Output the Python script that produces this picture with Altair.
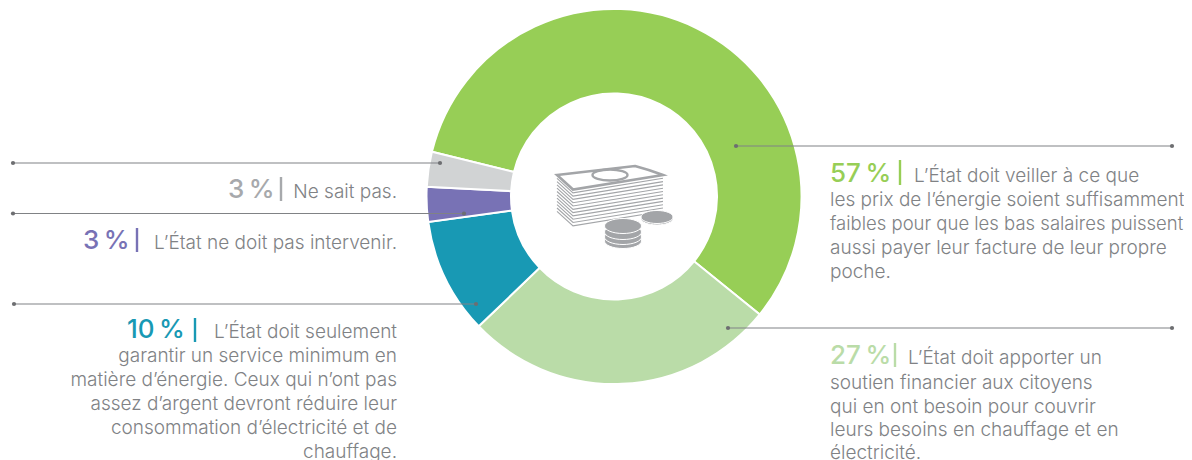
import altair as alt
import pandas as pd

categories = ["Prix faibles", "Soutien financier", "Service minimum", "Pas d'intervention", "Ne sait pas"]
values = [57, 27, 10, 3, 3]
colors = ["#97CE56", "#BADCA8", "#1899B4", "#7872B5", "#D1D3D4"]
order = [0, 1, 2, 3, 4]

FONT = "Inter"
TXT = "#808285"
LINE = "#808285"
OX, OY = 8, 8  # page margin

df = pd.DataFrame({"cat": categories, "val": values, "ord": order})
start = 4.953
arc = alt.Chart(df).mark_arc(outerRadius=187.5, innerRadius=103, stroke="white", strokeWidth=2).encode(
    theta=alt.Theta("val:Q", stack=True, scale=alt.Scale(domain=[0, 100], range=[start, start + 6.28319])),
    order=alt.Order("ord:Q"),
    color=alt.Color("cat:N", scale=alt.Scale(domain=categories, range=colors), legend=None),
    x=alt.value(614 - OX), y=alt.value(196.5 - OY),
)

layers = [arc]

one = pd.DataFrame({"a": [0]})

def vx(v): return alt.value(v - OX)
def vy(v): return alt.value(v - OY)

def text(s, x, y, size=19, color=TXT, align="left", weight=300):
    layers.append(alt.Chart(one).mark_text(font=FONT, fontSize=size, color=color, align=align,
                                           baseline="alphabetic", fontWeight=weight).encode(
        x=vx(x), y=vy(y), text=alt.value(s)))

def rule(x1, x2, y1, y2, color, width):
    layers.append(alt.Chart(one).mark_rule(color=color, strokeWidth=width).encode(
        x=vx(x1), x2=vx(x2), y=vy(y1), y2=vy(y2)))

def dot(x, y):
    layers.append(alt.Chart(one).mark_point(filled=True, color="#6d6e71", size=18, opacity=1).encode(x=vx(x), y=vy(y)))

def shape(path, fill=None, stroke=None, sw=1.0):
    kw = dict(shape=path, size=4, opacity=1, strokeWidth=sw)
    if fill:
        kw.update(filled=True, fill=fill)
    else:
        kw.update(filled=False, fill="transparent")
    if stroke:
        kw.update(stroke=stroke)
    layers.append(alt.Chart(one).mark_point(**kw).encode(x=alt.value(0), y=alt.value(0)))

# leaders
for x1, x2, y in [(13, 440, 163), (13, 464, 213.5), (14, 476, 304), (736, 1172, 146), (728, 1172, 328)]:
    rule(x1, x2, y, y, LINE, 1.2)
    dot(x1, y)
    dot(x2, y)

# labels
PCT = 26
GRAY_P, PUR, TEAL, G1, G2 = "#A7A9AC", "#7872B5", "#1899B4", "#97CE56", "#BADCA8"

text("57\u202f%", 830, 182, PCT, G1, weight=500)
rule(900, 900, 160, 185, G1, 2.4)
text("L’État doit veiller à ce que", 914, 182)
text("les prix de l’énergie soient suffisamment", 830, 206)
text("faibles pour que les bas salaires puissent", 830, 230, size=18.5)
text("aussi payer leur facture de leur propre", 830, 254)
text("poche.", 830, 278)

text("27\u202f%", 830, 363.5, PCT, G2, weight=500)
rule(895, 895, 343, 367, G2, 2.4)
text("L’État doit apporter un", 908, 364)
for s, y in [("soutien financier aux citoyens", 389), ("qui en ont besoin pour couvrir", 413),
             ("leurs besoins en chauffage et en", 436), ("électricité.", 458.5)]:
    text(s, 830, y)

text("3\u202f%", 228, 198, PCT, GRAY_P, weight=500)
rule(281, 281, 177, 201, GRAY_P, 2.4)
text("Ne sait pas.", 397, 198, align="right")

text("3\u202f%", 83, 249, PCT, PUR, weight=500)
rule(137, 137, 228, 252, PUR, 2.4)
text("L’État ne doit pas intervenir.", 397, 249, align="right")

text("10\u202f%", 127, 338, PCT, TEAL, weight=500)
rule(195, 195, 318, 342, TEAL, 2.4)
text("L’État doit seulement", 397, 338, align="right")
for s, y in [("garantir un service minimum en", 362), ("matière d’énergie. Ceux qui n’ont pas", 386),
             ("assez d’argent devront réduire leur", 410), ("consommation d’électricité et de", 434),
             ("chauffage.", 457.5)]:
    text(s, 397, y, align="right")

# icon: banknotes
ICON = "#a3a5a8"
OXY = lambda x, y: f"{x-OX:.1f} {y-OY:.1f}"
stack = ""
for i in range(1, 12):
    d = i * 3.3
    stack += f"M{OXY(557, 175 + d)} L{OXY(573, 189.5 + d)} L{OXY(663, 175 + d)} "
shape(stack, stroke=ICON, sw=1.1)
shape(f"M{OXY(557,175)} L{OXY(635,166)} Q{OXY(650,170)} {OXY(663,175)} L{OXY(573,189.5)} Z", stroke=ICON, sw=2.6)
def ell(cx, cy, rx, ry):
    return f"M{OXY(cx-rx, cy)} A{rx} {ry} 0 1 1 {OXY(cx+rx, cy)} A{rx} {ry} 0 1 1 {OXY(cx-rx, cy)} Z"
shape(ell(610, 175, 17.5, 5.5), stroke=ICON, sw=2.4)
# coins
for cy in [218.5, 217]:
    shape(ell(657, cy, 16, 6.5), fill=ICON, stroke="white", sw=1)
for cy in [241, 237, 232, 226]:
    shape(ell(623, cy, 18.5, 7.5), fill=ICON, stroke="white", sw=1)

chart = alt.layer(*layers).properties(
    width=1176, height=452, padding=0, autosize=alt.AutoSizeParams(type="none"),
).configure_view(stroke=None)

chart.save("out.html", embed_options={"renderer": "svg", "actions": False})
